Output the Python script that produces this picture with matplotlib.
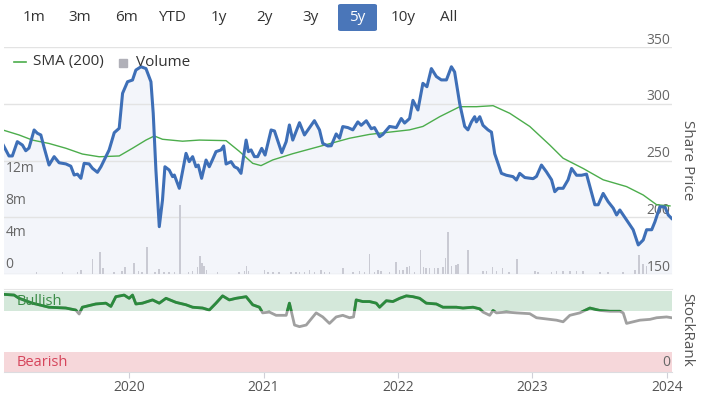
import matplotlib

matplotlib.use("Agg")
import matplotlib.pyplot as plt
from matplotlib.patches import FancyBboxPatch

plt.rcParams["font.family"] = ["Open Sans", "DejaVu Sans"]

# Share price (decimal year, GBp)
price_t = [2019.057, 2019.106, 2019.131, 2019.168, 2019.206, 2019.231, 2019.255, 2019.293,
           2019.317, 2019.343, 2019.367, 2019.404, 2019.442, 2019.479, 2019.529, 2019.566,
           2019.591, 2019.615, 2019.641, 2019.665, 2019.702, 2019.727, 2019.764, 2019.790,
           2019.814, 2019.851, 2019.889, 2019.926, 2019.951, 2019.988, 2020.025, 2020.050,
           2020.088, 2020.125, 2020.162, 2020.179, 2020.199, 2020.224, 2020.248, 2020.266,
           2020.298, 2020.323, 2020.336, 2020.373, 2020.423, 2020.447, 2020.472, 2020.497,
           2020.514, 2020.539, 2020.572, 2020.596, 2020.621, 2020.646, 2020.683, 2020.703,
           2020.721, 2020.758, 2020.783, 2020.807, 2020.832, 2020.870, 2020.887, 2020.907,
           2020.932, 2020.956, 2020.986, 2021.011, 2021.056, 2021.081, 2021.135, 2021.168,
           2021.192, 2021.217, 2021.267, 2021.304, 2021.378, 2021.416, 2021.440, 2021.478,
           2021.503, 2021.540, 2021.565, 2021.589, 2021.627, 2021.664, 2021.701, 2021.726,
           2021.764, 2021.801, 2021.825, 2021.863, 2021.887, 2021.937, 2021.987, 2022.024,
           2022.049, 2022.086, 2022.111, 2022.148, 2022.185, 2022.215, 2022.248, 2022.285,
           2022.322, 2022.360, 2022.397, 2022.421, 2022.459, 2022.496, 2022.520, 2022.546,
           2022.570, 2022.583, 2022.608, 2022.632, 2022.669, 2022.695, 2022.719, 2022.769,
           2022.806, 2022.855, 2022.881, 2022.905, 2022.943, 2023.005, 2023.030, 2023.067,
           2023.104, 2023.142, 2023.166, 2023.191, 2023.228, 2023.265, 2023.291, 2023.328,
           2023.365, 2023.402, 2023.427, 2023.464, 2023.489, 2023.526, 2023.563, 2023.601,
           2023.626, 2023.650, 2023.700, 2023.749, 2023.787, 2023.824, 2023.849, 2023.887,
           2023.911, 2023.948, 2023.986, 2024.010, 2024.035]
price = [265, 254, 254, 266.6, 263.6, 258.6, 261, 276.9,
         274, 272.5, 261.6, 246, 253.4, 248, 247, 245,
         237.2, 238, 234.3, 247.5, 247, 243.1, 239.6, 244.5,
         250.4, 259.3, 274.5, 278.4, 309.2, 319.4, 320.9, 329.7,
         332.6, 331, 319.4, 291.6, 241.6, 191.7, 215.2, 244.5,
         241.6, 235.8, 237.2, 225.5, 256.3, 249, 253.4, 244.5,
         246, 234.3, 250.4, 244.5, 251, 257.8, 259.3, 262.8,
         246.9, 249, 244.5, 243.1, 238.7, 268, 257.8, 259.3,
         253.4, 253.4, 260.7, 254.8, 276.9, 276, 256.9, 266.6,
         281.3, 268, 283.3, 272.5, 285.1, 276.9, 265.1, 262.8,
         263, 273.4, 269.6, 279.9, 279, 277, 284, 281,
         285, 278, 279, 271, 273, 280, 279, 287,
         283, 287, 303, 294.5, 318, 315, 331, 324,
         321, 321, 332.6, 328, 300, 280, 277, 284,
         288.6, 284, 288.6, 281, 277, 275, 256, 238.7,
         237, 235.8, 232.8, 238.7, 235, 234, 236, 246,
         240, 233, 222.5, 225.5, 225.5, 233, 243, 237,
         237, 238, 227, 211, 211, 221, 213.7, 208,
         202, 206.4, 197.6, 189, 175.6, 180, 189, 189,
         196, 209.3, 209, 202, 199]

# 200-day simple moving average
sma_t = [2019.057, 2019.181, 2019.280, 2019.404, 2019.529, 2019.652, 2019.777, 2019.926,
         2020.025, 2020.125, 2020.187, 2020.248, 2020.397, 2020.522, 2020.721, 2020.820,
         2020.919, 2020.981, 2021.068, 2021.217, 2021.366, 2021.466, 2021.639, 2021.788,
         2021.937, 2022.086, 2022.185, 2022.310, 2022.459, 2022.583, 2022.707, 2022.831,
         2022.980, 2023.129, 2023.228, 2023.377, 2023.526, 2023.700, 2023.824, 2023.924,
         2024.023]
sma = [277, 272.5, 268, 265, 260.8, 255.7, 253.3, 254,
       260.8, 268, 271.6, 268.7, 267, 268, 267.5, 258,
       247.5, 245.5, 250.5, 256, 260.8, 264, 269.6, 273,
       275, 277, 280, 288.6, 297.4, 297.4, 298.3, 291.6,
       280, 263.6, 252, 243, 233, 227, 219.6, 211,
       210]

# Daily volume (millions of shares), only the visible bars
vol_t = [2019.310, 2019.504, 2019.615, 2019.641, 2019.727, 2019.784, 2019.807, 2019.889,
         2019.946, 2019.968, 2020.038, 2020.070, 2020.095, 2020.132, 2020.194, 2020.224,
         2020.261, 2020.298, 2020.336, 2020.380, 2020.440, 2020.472, 2020.509, 2020.529,
         2020.542, 2020.559, 2020.576, 2020.658, 2020.815, 2020.857, 2020.874, 2020.889,
         2021.006, 2021.031, 2021.068, 2021.113, 2021.205, 2021.242, 2021.267, 2021.304,
         2021.341, 2021.378, 2021.428, 2021.453, 2021.490, 2021.589, 2021.664, 2021.714,
         2021.751, 2021.788, 2021.825, 2021.850, 2021.875, 2021.937, 2021.987, 2022.012,
         2022.036, 2022.066, 2022.086, 2022.123, 2022.166, 2022.190, 2022.210, 2022.235,
         2022.272, 2022.297, 2022.334, 2022.352, 2022.371, 2022.397, 2022.429, 2022.446,
         2022.520, 2022.632, 2022.657, 2022.702, 2022.732, 2022.777, 2022.826, 2022.885,
         2023.017, 2023.042, 2023.142, 2023.179, 2023.228, 2023.278, 2023.328, 2023.377,
         2023.501, 2023.563, 2023.675, 2023.762, 2023.794, 2023.824, 2023.849]
vol_m = [0.2, 0.2, 0.3, 0.55, 1.8, 2.7, 0.7, 0.2,
         0.4, 0.9, 1.3, 0.4, 0.2, 3.4, 0.3, 0.6,
         0.3, 0.3, 0.3, 8.6, 0.3, 0.4, 0.85, 2.2,
         1.3, 1.0, 0.55, 0.2, 0.2, 0.4, 1.0, 0.4,
         0.55, 0.3, 0.3, 0.2, 0.2, 0.2, 0.2, 0.3,
         0.45, 0.3, 0.45, 0.3, 0.3, 0.7, 0.2, 0.4,
         0.2, 2.5, 0.3, 0.45, 0.35, 0.2, 1.5, 0.55,
         0.45, 0.85, 1.0, 0.2, 3.0, 0.85, 0.7, 0.7,
         0.7, 0.7, 0.85, 2.0, 5.2, 1.05, 1.1, 1.25,
         3.0, 0.4, 0.4, 0.85, 0.4, 0.7, 0.3, 1.9,
         0.4, 0.3, 0.3, 0.4, 0.4, 0.4, 0.4, 0.4,
         0.3, 0.3, 0.2, 0.55, 2.3, 1.25, 1.05]

# StockRank (0-100)
rank_t = [2019.057, 2019.144, 2019.181, 2019.280, 2019.404, 2019.529, 2019.603, 2019.628,
          2019.652, 2019.752, 2019.827, 2019.864, 2019.901, 2019.963, 2020.000, 2020.025,
          2020.050, 2020.099, 2020.174, 2020.224, 2020.274, 2020.348, 2020.423, 2020.472,
          2020.546, 2020.596, 2020.646, 2020.695, 2020.745, 2020.795, 2020.870, 2020.919,
          2020.969, 2020.993, 2021.043, 2021.093, 2021.168, 2021.192, 2021.230, 2021.267,
          2021.317, 2021.391, 2021.440, 2021.490, 2021.540, 2021.589, 2021.639, 2021.669,
          2021.689, 2021.738, 2021.788, 2021.838, 2021.863, 2021.913, 2021.962, 2022.012,
          2022.062, 2022.111, 2022.161, 2022.210, 2022.285, 2022.334, 2022.434, 2022.483,
          2022.558, 2022.608, 2022.632, 2022.682, 2022.707, 2022.732, 2022.806, 2022.881,
          2022.980, 2023.030, 2023.129, 2023.179, 2023.228, 2023.278, 2023.352, 2023.427,
          2023.501, 2023.576, 2023.650, 2023.675, 2023.700, 2023.749, 2023.799, 2023.874,
          2023.924, 2023.998, 2024.035]
rank = [96, 95, 91, 85, 80, 79, 76.5, 71.6,
        80, 84, 85, 81, 93, 95, 91, 95,
        84, 85, 89, 85, 91, 86, 83, 80,
        79, 76.5, 85, 94, 89, 91, 93, 83,
        80, 73, 74, 70, 70, 85, 58, 56,
        58, 73, 68, 60, 68, 70, 67, 68,
        89, 87, 87, 85, 80, 88, 87, 91,
        94, 93, 91, 85, 84, 80, 80, 79,
        80, 78, 74, 70, 76, 73, 74, 73,
        72, 67, 65, 64, 62, 70, 73, 79,
        76, 75, 75, 73, 60, 62, 64, 65,
        67, 68, 67]

years = [2020, 2021, 2022, 2023, 2024]
price_ticks = [150, 200, 250, 300, 350]
vol_ticks = [0, 4, 8, 12]
vol_labels = ["0", "4m", "8m", "12m"]
range_buttons = ["1m", "3m", "6m", "YTD", "1y", "2y", "3y", "5y", "10y", "All"]
selected = "5y"

W, H = 701, 395
BLUE = "#3e6fb7"
GREEN = "#4cad4c"
TXT = "#666666"


def rect(x0, y0, x1, y1):
    # pixel box (top-left origin) -> figure fraction rect
    return [x0 / W, 1 - y1 / H, (x1 - x0) / W, (y1 - y0) / H]


fig = plt.figure(figsize=(W / 100, H / 100), dpi=100)
xlim = (2019.069, 2024.038)

# base layer: area fill and grid
ax = fig.add_axes(rect(4, 47, 672, 274))
ax.set_xlim(*xlim)
ax.set_ylim(150, 350)
ax.fill_between(price_t, price, 150, color="#f3f5fa", lw=0)
for p in price_ticks:
    ax.axhline(p, color="#e3e3e3", lw=1, zorder=1)
    ax.annotate(str(p), xy=(1, p), xycoords=("axes fraction", "data"),
                xytext=(-1, 5), textcoords="offset points",
                ha="right", va="center", fontsize=10, color=TXT)
ax.axis("off")

# volume bars
axv = fig.add_axes(rect(4, 47, 672, 274), sharex=ax)
axv.set_ylim(0, 28.1)
axv.bar(vol_t, vol_m, width=0.012, color="#c9cad3", lw=0)
for v, lbl in zip(vol_ticks, vol_labels):
    axv.annotate(lbl, xy=(0, v), xycoords=("axes fraction", "data"),
                 xytext=(1, 6.5), textcoords="offset points",
                 ha="left", va="center", fontsize=10, color=TXT)
axv.axis("off")

# price line and SMA on top
axp = fig.add_axes(rect(4, 47, 672, 274), sharex=ax)
axp.set_ylim(150, 350)
axp.plot(sma_t, sma, color=GREEN, lw=1.0)
axp.plot(price_t, price, color=BLUE, lw=2.2, solid_joinstyle="round")
axp.axis("off")

# legend
fig.add_artist(plt.Line2D([14 / W, 26 / W], [1 - 62 / H] * 2, color=GREEN, lw=1.2))
fig.text(33 / W, 1 - 62 / H, "SMA (200)", fontsize=11, color="#333333", va="center")
fig.add_artist(plt.Rectangle((119 / W, 1 - 67 / H), 8 / W, 8 / H, color="#b0b0b8",
                             transform=fig.transFigure))
fig.text(136 / W, 1 - 62 / H, "Volume", fontsize=11, color="#333333", va="center")

fig.text(687 / W, 1 - 160 / H, "Share Price", rotation=270, fontsize=11,
         color="#555555", ha="center", va="center")

# range selector
for i, lbl in enumerate(range_buttons):
    cx = 34 + i * 46.1
    if lbl == selected:
        fig.add_artist(FancyBboxPatch((338 / W, 1 - 31 / H), 39 / W, 27 / H,
                                      boxstyle="round,pad=0,rounding_size=0.004",
                                      transform=fig.transFigure,
                                      fc="#4a76b9", ec="none"))
    fig.text(cx / W, 1 - 17.5 / H, lbl, fontsize=11, ha="center", va="center",
             color="white" if lbl == selected else "#333333")

# StockRank panel
axr = fig.add_axes(rect(4, 289.4, 672, 372), sharex=ax)
axr.set_ylim(0, 102)
bull = axr.axhspan(75, 100, color="#d4e8da", lw=0)
axr.axhspan(0, 25, color="#f6d7da", lw=0)
axr.plot(rank_t, rank, color="#a0a0a0", lw=2)
green_line, = axr.plot(rank_t, rank, color="#2a8a3c", lw=2)
green_line.set_clip_path(bull)
axr.text(0.019, 87.5, "Bullish", fontsize=10.5, color="#3b8c47", va="center",
         transform=axr.get_yaxis_transform())
axr.text(0.019, 12, "Bearish", fontsize=10.5, color="#d6455b", va="center",
         transform=axr.get_yaxis_transform())
axr.text(0.997, 12, "0", fontsize=10, color=TXT, va="center", ha="right",
         transform=axr.get_yaxis_transform())
for s in ["left", "right"]:
    axr.spines[s].set_visible(False)
axr.spines["top"].set_color("#e6e6e6")
axr.spines["bottom"].set_color("#dcdce0")
axr.set_yticks([])
axr.set_xticks(years)
axr.set_xticklabels([str(y) for y in years])
axr.tick_params(axis="x", length=4.5, color="#d0d0d8", labelsize=10,
                labelcolor="#555555", pad=1.5)
axr.set_xlim(*xlim)

fig.text(687 / W, 1 - 330 / H, "StockRank", rotation=270, fontsize=11,
         color="#555555", ha="center", va="center")

fig.savefig("out.png", dpi=100)
